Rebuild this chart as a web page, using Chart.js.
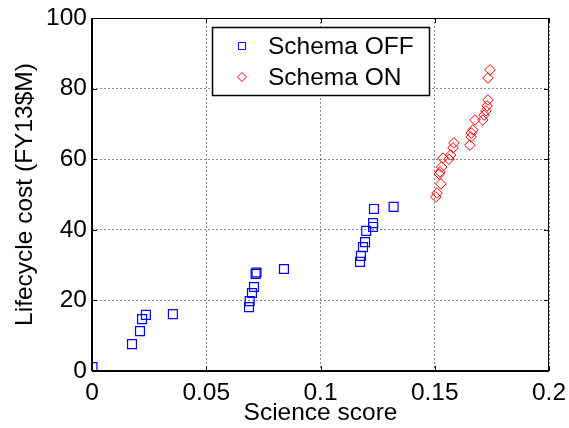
<!DOCTYPE html>
<html>
<head>
<meta charset="utf-8">
<script src="https://cdn.jsdelivr.net/npm/chart.js@4/dist/chart.umd.min.js"></script>
<style>
  html, body { margin: 0; padding: 0; background: #fff; }
  #wrap { width: 569px; height: 428px; }
</style>
</head>
<body>
<div id="wrap"><canvas id="scoreChart"></canvas></div>
<script>
// values
const offScore = [0.0002, 0.0175, 0.021, 0.0219, 0.0236, 0.0354, 0.0687, 0.069, 0.070, 0.0709, 0.0716, 0.0720, 0.084,
                  0.1173, 0.1177, 0.1186, 0.1195, 0.1200, 0.1230, 0.1230, 0.1234, 0.1320];
const offCost  = [1.1, 7.6, 11.3, 14.7, 15.9, 16.1, 18.1, 19.8, 22.1, 23.8, 27.5, 27.9, 28.9,
                  30.9, 32.6, 35.1, 36.5, 39.7, 40.8, 41.9, 45.9, 46.5];
const onScore  = [0.1505, 0.151, 0.1527, 0.152, 0.1523, 0.153, 0.1536, 0.1562, 0.157, 0.158, 0.1584, 0.1654,
                  0.1659, 0.166, 0.1667, 0.1676, 0.171, 0.1716, 0.1724, 0.1729, 0.1733, 0.1733, 0.1742];
const onCost   = [49.3, 50.4, 53.0, 55.8, 56.4, 57.8, 60.3, 60.0, 61.2, 63.2, 64.6, 64.0,
                  66.3, 67.4, 68.3, 71.1, 71.1, 72.5, 73.7, 75.1, 76.8, 83.0, 85.3];
const xTickLabels = ['0', '0.05', '0.1', '0.15', '0.2'];
const yTickLabels = ['0', '20', '40', '60', '80', '100'];
const seriesNames = ['Schema OFF', 'Schema ON'];

const FONT = 'Arial, "Liberation Sans", sans-serif';
const pairs = (xs, ys) => xs.map((x, i) => ({ x: x, y: ys[i] }));

// MATLAB style box, inward ticks and legend inside the axes
const matlabBox = {
  id: 'matlabBox',
  afterDraw(chart) {
    const { ctx, chartArea: a, scales } = chart;
    ctx.save();
    ctx.strokeStyle = '#000';
    ctx.lineWidth = 1;
    ctx.strokeRect(a.left + 0.5, a.top + 0.5, a.right - a.left - 1, a.bottom - a.top);
    ctx.lineWidth = 2;
    ctx.beginPath();
    ctx.moveTo(a.left, a.bottom); ctx.lineTo(a.right, a.bottom);
    ctx.moveTo(a.left, a.top); ctx.lineTo(a.left, a.bottom);
    ctx.stroke();
    ctx.lineWidth = 1;
    ctx.beginPath();
    scales.x.ticks.forEach(t => {
      const px = Math.round(scales.x.getPixelForValue(t.value)) + 0.5;
      ctx.moveTo(px, a.bottom); ctx.lineTo(px, a.bottom - 5);
      ctx.moveTo(px, a.top); ctx.lineTo(px, a.top + 5);
    });
    scales.y.ticks.forEach(t => {
      const py = Math.round(scales.y.getPixelForValue(t.value)) + 0.5;
      ctx.moveTo(a.left, py); ctx.lineTo(a.left + 5, py);
      ctx.moveTo(a.right, py); ctx.lineTo(a.right - 5, py);
    });
    ctx.stroke();

    // legend
    const bx = a.left + 120, by = a.top + 9, bw = 217, bh = 68;
    ctx.fillStyle = '#fff';
    ctx.fillRect(bx, by, bw, bh);
    ctx.strokeStyle = '#000';
    ctx.lineWidth = 1.5;
    ctx.strokeRect(bx + 0.5, by + 0.5, bw, bh);
    ctx.font = '24.5px ' + FONT;
    ctx.textBaseline = 'middle';
    ctx.textAlign = 'left';
    chart.data.datasets.forEach((ds, i) => {
      const ly = by + 19 + i * 31;
      ctx.strokeStyle = ds.pointBorderColor;
      ctx.fillStyle = 'rgba(0,0,0,0)';
      ctx.lineWidth = 1;
      Chart.helpers.drawPoint(ctx, { pointStyle: ds.pointStyle, radius: i === 0 ? 5 : 4.5, rotation: 0, borderWidth: 1 }, bx + 30, ly);
      ctx.fillStyle = '#000';
      ctx.fillText(ds.label, bx + 56, ly + 1);
    });
    ctx.restore();
  }
};

new Chart(document.getElementById('scoreChart'), {
  type: 'scatter',
  data: {
    datasets: [
      {
        label: seriesNames[0],
        data: pairs(offScore, offCost),
        pointStyle: 'rect',
        pointRadius: 6.3,
        pointBorderWidth: 1.2,
        pointBorderColor: '#0000ff',
        pointBackgroundColor: 'rgba(0,0,0,0)'
      },
      {
        label: seriesNames[1],
        data: pairs(onScore, onCost),
        pointStyle: 'rectRot',
        pointRadius: 5.3,
        pointBorderWidth: 1,
        pointBorderColor: '#ff0000',
        pointBackgroundColor: 'rgba(0,0,0,0)'
      }
    ]
  },
  options: {
    responsive: true,
    maintainAspectRatio: false,
    animation: false,
    layout: { autoPadding: false, padding: { top: 18, right: 20, left: 0, bottom: 0 } },
    plugins: { legend: { display: false }, tooltip: { enabled: false } },
    scales: {
      x: {
        type: 'linear',
        min: 0, max: 0.2,
        afterFit: s => { s.height = 57; s.paddingLeft = 0; s.paddingRight = 0; },
        grid: { color: 'rgba(0,0,0,0.45)', drawTicks: false },
        border: { display: false, dash: [2, 2] },
        ticks: {
          stepSize: 0.05, padding: 8, color: '#000',
          font: { family: FONT, size: 24.5 },
          callback: (v, i) => xTickLabels[i]
        },
        title: { display: true, text: 'Science score', color: '#000', font: { family: FONT, size: 24.5 }, padding: { top: 0, bottom: 0 } }
      },
      y: {
        type: 'linear',
        min: 0, max: 100,
        afterFit: s => { s.width = 92; s.paddingTop = 0; s.paddingBottom = 0; },
        grid: { color: 'rgba(0,0,0,0.45)', drawTicks: false },
        border: { display: false, dash: [2, 2] },
        ticks: {
          stepSize: 20, padding: 5, color: '#000',
          font: { family: FONT, size: 24.5 },
          callback: (v, i) => yTickLabels[i]
        },
        title: { display: true, text: 'Lifecycle cost (FY13$M)', color: '#000', font: { family: FONT, size: 24.5 }, padding: { top: 11, bottom: 0 } }
      }
    }
  },
  plugins: [matlabBox]
});
</script>
</body>
</html>
